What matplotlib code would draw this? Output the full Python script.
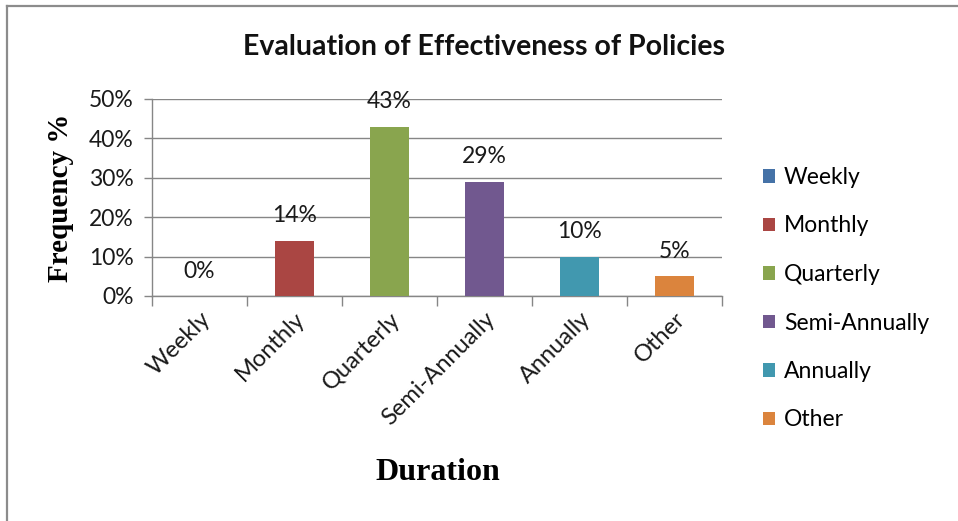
import matplotlib
matplotlib.use("Agg")
import matplotlib.pyplot as plt
from matplotlib.lines import Line2D
from matplotlib.patches import Patch
from matplotlib.ticker import FixedLocator, PercentFormatter

categories = ["Weekly", "Monthly", "Quarterly", "Semi-Annually", "Annually", "Other"]
values = [0, 14, 43, 29, 10, 5]
labels = ["0%", "14%", "43%", "29%", "10%", "5%"]
colors = ["#4572A7", "#AA4643", "#89A54E", "#71588F", "#4198AF", "#DB843D"]
yticks = [0, 10, 20, 30, 40, 50]

plt.rcParams["font.family"] = ["Lato", "DejaVu Sans"]
FS = 16.5

fig = plt.figure(figsize=(9.58, 5.21), dpi=100)
ax = fig.add_axes([152 / 958, 1 - 296 / 521, 570 / 958, 197 / 521])

x = list(range(len(categories)))
bars = ax.bar(x, values, width=0.42, color=colors, zorder=3)

for xi, v, lab in zip(x, values, labels):
    ax.annotate(lab, (xi, v), xytext=(0, 18), textcoords="offset points",
                ha="center", va="center", fontsize=FS, color="#1a1a1a")

ax.set_xlim(-0.5, len(categories) - 0.5)
ax.set_ylim(0, 50)
ax.set_yticks(yticks)
ax.yaxis.set_major_formatter(PercentFormatter(decimals=0))
ax.grid(axis="y", color="#868686", linewidth=1.0, zorder=0)

# category labels at the centres, tick marks on the boundaries
ax.set_xticks(x)
ax.set_xticklabels(categories, rotation=45, ha="right", va="top",
                   rotation_mode="anchor", fontsize=17, color="#1a1a1a")
ax.tick_params(axis="x", which="major", length=0, pad=9)
ax.xaxis.set_minor_locator(FixedLocator([i - 0.5 for i in range(len(categories) + 1)]))
ax.tick_params(axis="x", which="minor", length=7, color="#868686", width=1.0)
ax.tick_params(axis="y", length=6, color="#868686", width=1.0, labelsize=FS,
               labelcolor="#1a1a1a", pad=7)

for side in ("top", "right"):
    ax.spines[side].set_visible(False)
for side in ("left", "bottom"):
    ax.spines[side].set_color("#868686")
    ax.spines[side].set_linewidth(1.0)

fig.text(484 / 958, 1 - 47 / 521, "Evaluation of Effectiveness of Policies",
         ha="center", va="center", fontsize=20.5, fontweight="bold", color="#111111")
fig.text(60 / 958, 1 - 198 / 521, "Frequency %", rotation=90, ha="center", va="center",
         fontsize=21, fontweight="bold", family="Liberation Serif", color="black")
fig.text(438 / 958, 1 - 473 / 521, "Duration", ha="center", va="center",
         fontsize=23, fontweight="bold", family="Liberation Serif", color="black")

handles = [Patch(facecolor=c, edgecolor="none") for c in colors]
fig.legend(handles, categories, loc="upper left", bbox_to_anchor=(763 / 958, 1 - 167 / 521),
           frameon=False, fontsize=FS, handlelength=0.52, handleheight=0.52,
           handletextpad=0.4, labelspacing=1.2, borderpad=0, borderaxespad=0)

# outer chart frame (left and top edges)
fig.add_artist(Line2D([7 / 958, 7 / 958], [0, 1 - 6 / 521], transform=fig.transFigure,
                      color="#8c8c8c", linewidth=1.6))
fig.add_artist(Line2D([7 / 958, 1], [1 - 6 / 521, 1 - 6 / 521], transform=fig.transFigure,
                      color="#8c8c8c", linewidth=1.6))

fig.savefig("out.png", dpi=100, facecolor="white")
